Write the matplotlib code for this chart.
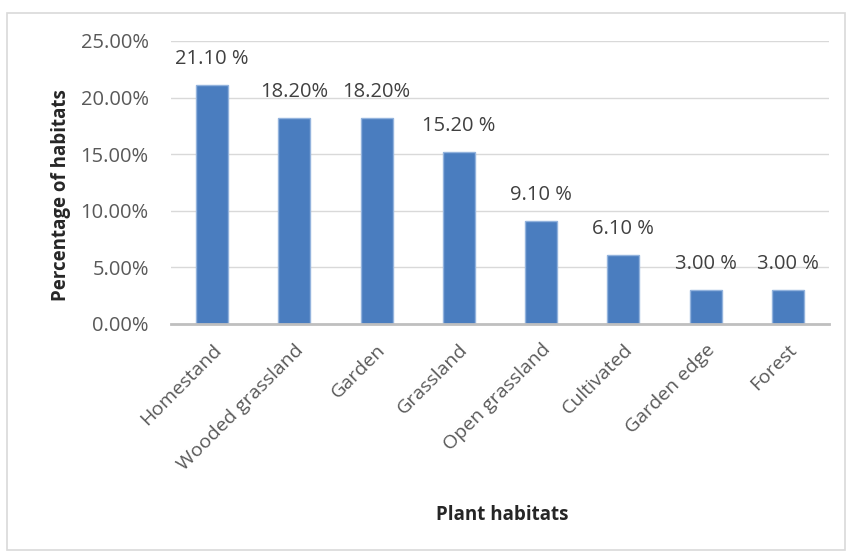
import matplotlib
matplotlib.use("Agg")
import matplotlib.pyplot as plt
from matplotlib.patches import Rectangle
from matplotlib.ticker import FuncFormatter, MultipleLocator

# data
habitats = ["Homestand", "Wooded grassland", "Garden", "Grassland",
            "Open grassland", "Cultivated", "Garden edge", "Forest"]
percent = [21.10, 18.20, 18.20, 15.20, 9.10, 6.10, 3.00, 3.00]
bar_labels = ["21.10 %", "18.20%", "18.20%", "15.20 %",
              "9.10 %", "6.10 %", "3.00 %", "3.00 %"]

plt.rcParams["font.family"] = ["Open Sans", "DejaVu Sans"]
TEXT = "#595959"

fig = plt.figure(figsize=(8.46, 5.51), dpi=100)
ax = fig.add_axes([0.2021, 0.412, 0.7778, 0.5136])

# outer chart frame
fig.patches.append(Rectangle((7 / 846, 1 / 551), 838 / 846, 537 / 551,
                             transform=fig.transFigure, fill=False,
                             edgecolor="#D9D9D9", linewidth=1.2))

x = range(len(habitats))
ax.bar(x, percent, width=0.39, color="#4A7DBF", edgecolor="#93B3DD",
       linewidth=1, zorder=3)

for i, (v, lab) in enumerate(zip(percent, bar_labels)):
    ax.annotate(lab, (i, v), xytext=(0, 19), textcoords="offset points",
                ha="center", va="center", fontsize=14.5, color="#404040")

ax.set_xlim(-0.5, len(habitats) - 0.5)
ax.set_ylim(0, 25)
ax.yaxis.set_major_locator(MultipleLocator(5))
ax.yaxis.set_major_formatter(FuncFormatter(lambda v, _: f"{v:.2f}%"))
ax.grid(axis="y", color="#D9D9D9", linewidth=1, zorder=0)

for side in ["top", "right", "left"]:
    ax.spines[side].set_visible(False)
ax.spines["bottom"].set_color("#BFBFBF")
ax.spines["bottom"].set_linewidth(2)
ax.spines["bottom"].set_zorder(4)

ax.set_xticks(list(x))
ax.set_xticklabels(habitats, rotation=45, ha="right", rotation_mode="anchor",
                   fontsize=14, color=TEXT)
ax.tick_params(axis="x", length=0, pad=12)
ax.tick_params(axis="y", length=0, pad=16, labelsize=14.5, labelcolor=TEXT)

ax.set_ylabel("Percentage of habitats", fontsize=13.5, fontweight="bold",
              color="#262626", labelpad=8)
ax.yaxis.set_label_coords(-0.152, 0.455)
fig.text(502 / 846, 1 - 515 / 551, "Plant habitats", ha="center", va="center",
         fontsize=13.5, fontweight="bold", color="#262626")

fig.savefig("out.png", dpi=100)
plt.close()
